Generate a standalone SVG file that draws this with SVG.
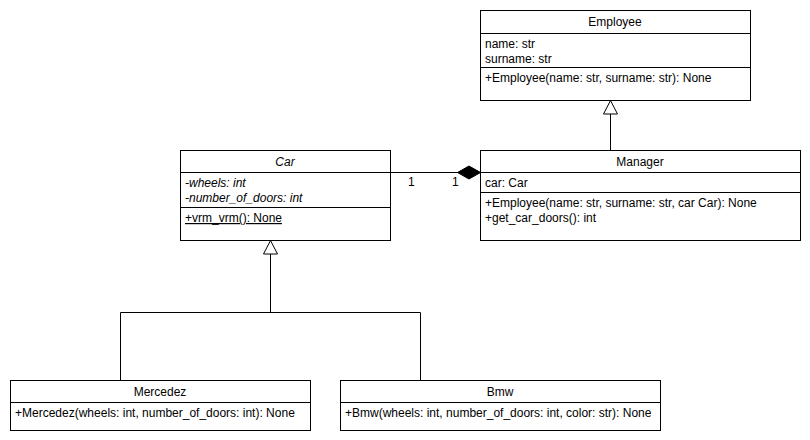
<svg xmlns="http://www.w3.org/2000/svg" width="810" height="440" viewBox="0 0 810 440">
<style>
.box{fill:#fff;stroke:#000;stroke-width:1}
.sep{stroke:#000;stroke-width:1}
text{font-family:"Liberation Sans",Arial,Helvetica,sans-serif;font-size:12px;fill:#000}
.t{text-anchor:middle}
.i{font-style:italic}
.u{text-decoration:underline}
.ln{fill:none;stroke:#000;stroke-width:1}
.tri{fill:#fff;stroke:#000;stroke-width:1}
.dia{fill:#000;stroke:#000;stroke-width:1}
</style>
<rect width="810" height="440" fill="#fff"/>
<g id="connectors">
<path class="ln" d="M610.5 150.5 V114"/>
<path class="tri" d="M610.5 100.5 L617.5 114 L603.5 114 Z"/>
<path class="ln" d="M120.5 380.5 V312.5 H420.5 V380.5 M270.5 312.5 V254"/>
<path class="tri" d="M270.5 240.5 L277.5 254 L263.5 254 Z"/>
<path class="ln" d="M390.5 172.5 H458"/>
<path class="dia" d="M480.5 172.5 L469 166 L457.5 172.5 L469 179 Z"/>
<text x="408" y="186">1</text>
<text x="452" y="186">1</text>
</g>
<g id="Employee">
<rect class="box" x="480.5" y="10.5" width="270" height="90"/>
<line class="sep" x1="480.5" y1="33.5" x2="750.5" y2="33.5"/>
<line class="sep" x1="480.5" y1="67.5" x2="750.5" y2="67.5"/>
<text class="t" x="615" y="26">Employee</text>
<text x="485" y="48">name: str</text>
<text x="485" y="63">surname: str</text>
<text x="485" y="82">+Employee(name: str, surname: str): None</text>
</g>
<g id="Manager">
<rect class="box" x="480.5" y="150.5" width="320" height="90"/>
<line class="sep" x1="480.5" y1="172.5" x2="800.5" y2="172.5"/>
<line class="sep" x1="480.5" y1="192.5" x2="800.5" y2="192.5"/>
<text class="t" x="640" y="166">Manager</text>
<text x="485" y="187">car: Car</text>
<text x="485" y="207">+Employee(name: str, surname: str, car Car): None</text>
<text x="485" y="222">+get_car_doors(): int</text>
</g>
<g id="Car">
<rect class="box" x="180.5" y="150.5" width="210" height="90"/>
<line class="sep" x1="180.5" y1="172.5" x2="390.5" y2="172.5"/>
<line class="sep" x1="180.5" y1="207.5" x2="390.5" y2="207.5"/>
<text class="t i" x="285" y="166">Car</text>
<text class="i" x="185" y="187">-wheels: int</text>
<text class="i" x="185" y="202">-number_of_doors: int</text>
<text class="u" x="185" y="222">+vrm_vrm(): None</text>
</g>
<g id="Mercedez">
<rect class="box" x="10.5" y="380.5" width="300" height="50"/>
<line class="sep" x1="10.5" y1="402.5" x2="310.5" y2="402.5"/>
<text class="t" x="160" y="396">Mercedez</text>
<text x="15" y="417">+Mercedez(wheels: int, number_of_doors: int): None</text>
</g>
<g id="Bmw">
<rect class="box" x="340.5" y="380.5" width="320" height="50"/>
<line class="sep" x1="340.5" y1="402.5" x2="660.5" y2="402.5"/>
<text class="t" x="500" y="396">Bmw</text>
<text x="345" y="417">+Bmw(wheels: int, number_of_doors: int, color: str): None</text>
</g>
</svg>
